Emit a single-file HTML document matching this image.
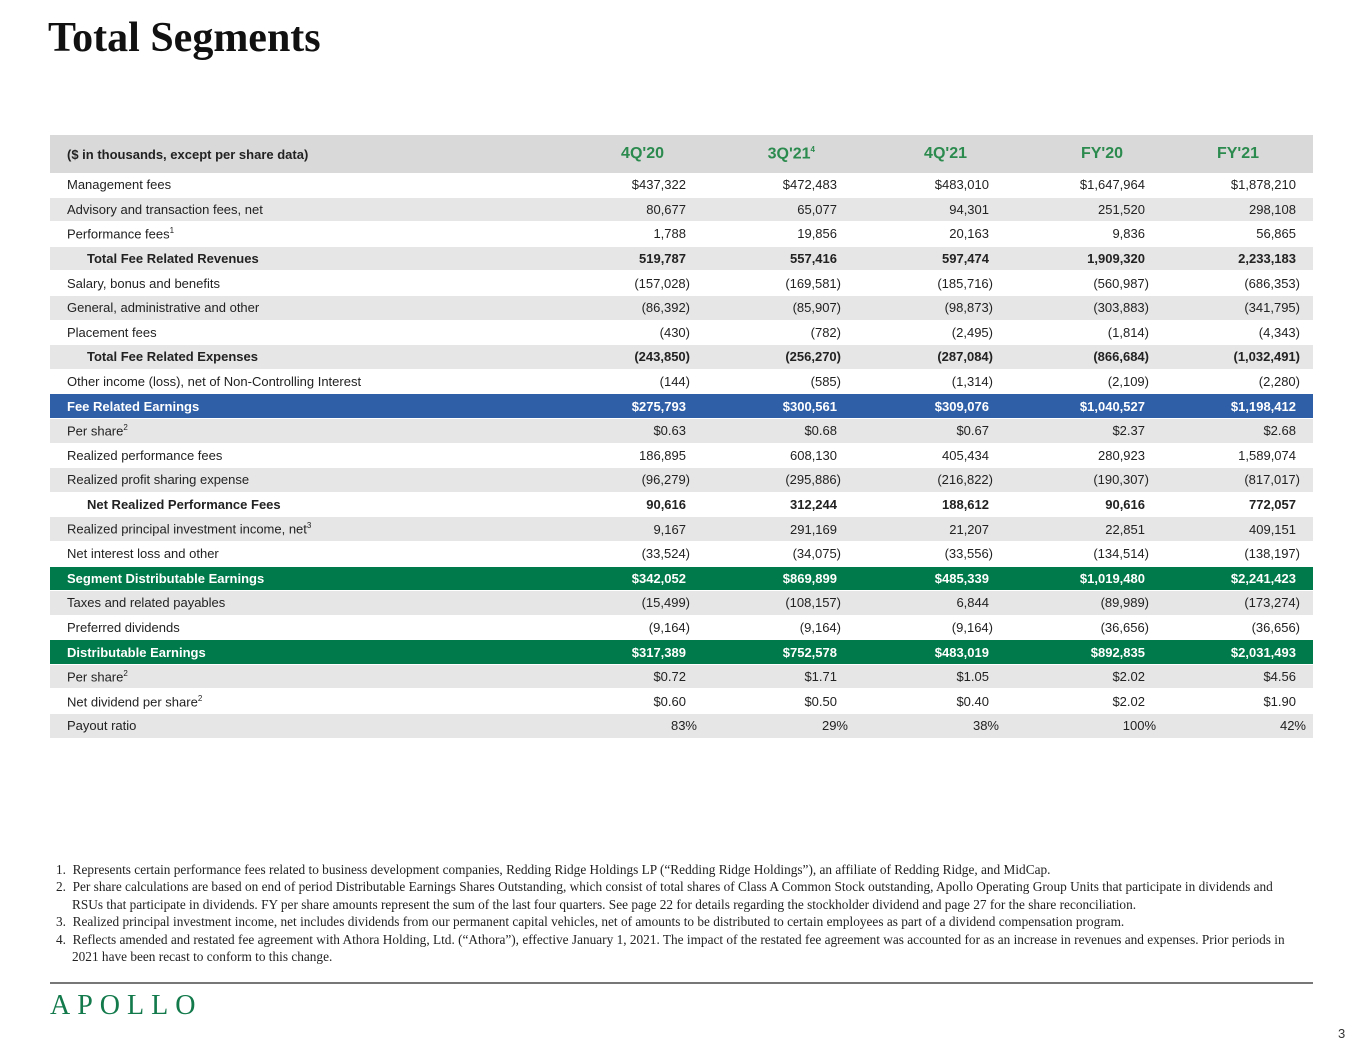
<!DOCTYPE html>
<html><head><meta charset="utf-8"><style>
body{margin:0;width:1365px;height:1055px;background:#fff;position:relative;font-family:"Liberation Sans",sans-serif;overflow:hidden}
h1{position:absolute;left:48px;top:14px;margin:0;font-family:"Liberation Serif",serif;font-size:42px;font-weight:bold;color:#111}
table{position:absolute;left:50px;top:135px;border-collapse:collapse;table-layout:fixed;width:1263px;font-size:13px;color:#222}
td{height:23.6px;padding:0;border-bottom:1px solid #fff;white-space:nowrap}
td.l{padding-left:17px}
td.n{text-align:right;padding-right:4px}
td.n5{text-align:right;padding-right:17px}
tr.g td{background:#e6e6e6}
tr.h td{background:#d9d9d9;height:38px;font-weight:bold;font-size:13px;border:none}
tr.h td.c{color:#2b8a4e;font-size:16px;text-align:right;padding-right:26px}
tr.h td.c5{color:#2b8a4e;font-size:16px;text-align:right;padding-right:54px}
tr.b td{font-weight:bold}
tr.t td.l{padding-left:37px}
tr.blue td{background:#2f5fa7;color:#fff;font-weight:bold}
tr.grn td{background:#007a4a;color:#fff;font-weight:bold}
.p{margin-right:-4px}
sup{font-size:8px}
.fn{position:absolute;left:56px;top:861px;width:1280px;font-family:"Liberation Serif",serif;font-size:13.3px;color:#222;line-height:17.4px;white-space:nowrap}
.fn div{padding-left:16px;text-indent:-16px;margin:0}
.line{position:absolute;left:50px;top:982px;width:1263px;height:2px;background:#777}
.logo{position:absolute;left:50px;top:990px;font-family:"Liberation Serif",serif;font-size:28px;color:#137a4c;letter-spacing:7px}
.pg{position:absolute;left:1338px;top:1026px;font-size:13px;color:#333}
</style></head><body>
<h1>Total Segments</h1>
<table>
<colgroup><col style="width:490px"><col style="width:150px"><col style="width:151px"><col style="width:152px"><col style="width:156px"><col style="width:164px"></colgroup>
<tr class="h"><td class="l">($ in thousands, except per share data)</td><td class="c">4Q'20</td><td class="c">3Q'21<sup>4</sup></td><td class="c">4Q'21</td><td class="c">FY'20</td><td class="c5">FY'21</td></tr>
<tr><td class="l">Management fees</td><td class="n">$437,322</td><td class="n">$472,483</td><td class="n">$483,010</td><td class="n">$1,647,964</td><td class="n5">$1,878,210</td></tr>
<tr class="g"><td class="l">Advisory and transaction fees, net</td><td class="n">80,677</td><td class="n">65,077</td><td class="n">94,301</td><td class="n">251,520</td><td class="n5">298,108</td></tr>
<tr><td class="l">Performance fees<sup>1</sup></td><td class="n">1,788</td><td class="n">19,856</td><td class="n">20,163</td><td class="n">9,836</td><td class="n5">56,865</td></tr>
<tr class="g b t"><td class="l">Total Fee Related Revenues</td><td class="n">519,787</td><td class="n">557,416</td><td class="n">597,474</td><td class="n">1,909,320</td><td class="n5">2,233,183</td></tr>
<tr><td class="l">Salary, bonus and benefits</td><td class="n"><span class="p">(157,028)</span></td><td class="n"><span class="p">(169,581)</span></td><td class="n"><span class="p">(185,716)</span></td><td class="n"><span class="p">(560,987)</span></td><td class="n5"><span class="p">(686,353)</span></td></tr>
<tr class="g"><td class="l">General, administrative and other</td><td class="n"><span class="p">(86,392)</span></td><td class="n"><span class="p">(85,907)</span></td><td class="n"><span class="p">(98,873)</span></td><td class="n"><span class="p">(303,883)</span></td><td class="n5"><span class="p">(341,795)</span></td></tr>
<tr><td class="l">Placement fees</td><td class="n"><span class="p">(430)</span></td><td class="n"><span class="p">(782)</span></td><td class="n"><span class="p">(2,495)</span></td><td class="n"><span class="p">(1,814)</span></td><td class="n5"><span class="p">(4,343)</span></td></tr>
<tr class="g b t"><td class="l">Total Fee Related Expenses</td><td class="n"><span class="p">(243,850)</span></td><td class="n"><span class="p">(256,270)</span></td><td class="n"><span class="p">(287,084)</span></td><td class="n"><span class="p">(866,684)</span></td><td class="n5"><span class="p">(1,032,491)</span></td></tr>
<tr><td class="l">Other income (loss), net of Non-Controlling Interest</td><td class="n"><span class="p">(144)</span></td><td class="n"><span class="p">(585)</span></td><td class="n"><span class="p">(1,314)</span></td><td class="n"><span class="p">(2,109)</span></td><td class="n5"><span class="p">(2,280)</span></td></tr>
<tr class="blue"><td class="l">Fee Related Earnings</td><td class="n">$275,793</td><td class="n">$300,561</td><td class="n">$309,076</td><td class="n">$1,040,527</td><td class="n5">$1,198,412</td></tr>
<tr class="g"><td class="l">Per share<sup>2</sup></td><td class="n">$0.63</td><td class="n">$0.68</td><td class="n">$0.67</td><td class="n">$2.37</td><td class="n5">$2.68</td></tr>
<tr><td class="l">Realized performance fees</td><td class="n">186,895</td><td class="n">608,130</td><td class="n">405,434</td><td class="n">280,923</td><td class="n5">1,589,074</td></tr>
<tr class="g"><td class="l">Realized profit sharing expense</td><td class="n"><span class="p">(96,279)</span></td><td class="n"><span class="p">(295,886)</span></td><td class="n"><span class="p">(216,822)</span></td><td class="n"><span class="p">(190,307)</span></td><td class="n5"><span class="p">(817,017)</span></td></tr>
<tr class="b t"><td class="l">Net Realized Performance Fees</td><td class="n">90,616</td><td class="n">312,244</td><td class="n">188,612</td><td class="n">90,616</td><td class="n5">772,057</td></tr>
<tr class="g"><td class="l">Realized principal investment income, net<sup>3</sup></td><td class="n">9,167</td><td class="n">291,169</td><td class="n">21,207</td><td class="n">22,851</td><td class="n5">409,151</td></tr>
<tr><td class="l">Net interest loss and other</td><td class="n"><span class="p">(33,524)</span></td><td class="n"><span class="p">(34,075)</span></td><td class="n"><span class="p">(33,556)</span></td><td class="n"><span class="p">(134,514)</span></td><td class="n5"><span class="p">(138,197)</span></td></tr>
<tr class="grn"><td class="l">Segment Distributable Earnings</td><td class="n">$342,052</td><td class="n">$869,899</td><td class="n">$485,339</td><td class="n">$1,019,480</td><td class="n5">$2,241,423</td></tr>
<tr class="g"><td class="l">Taxes and related payables</td><td class="n"><span class="p">(15,499)</span></td><td class="n"><span class="p">(108,157)</span></td><td class="n">6,844</td><td class="n"><span class="p">(89,989)</span></td><td class="n5"><span class="p">(173,274)</span></td></tr>
<tr><td class="l">Preferred dividends</td><td class="n"><span class="p">(9,164)</span></td><td class="n"><span class="p">(9,164)</span></td><td class="n"><span class="p">(9,164)</span></td><td class="n"><span class="p">(36,656)</span></td><td class="n5"><span class="p">(36,656)</span></td></tr>
<tr class="grn"><td class="l">Distributable Earnings</td><td class="n">$317,389</td><td class="n">$752,578</td><td class="n">$483,019</td><td class="n">$892,835</td><td class="n5">$2,031,493</td></tr>
<tr class="g"><td class="l">Per share<sup>2</sup></td><td class="n">$0.72</td><td class="n">$1.71</td><td class="n">$1.05</td><td class="n">$2.02</td><td class="n5">$4.56</td></tr>
<tr><td class="l">Net dividend per share<sup>2</sup></td><td class="n">$0.60</td><td class="n">$0.50</td><td class="n">$0.40</td><td class="n">$2.02</td><td class="n5">$1.90</td></tr>
<tr class="g"><td class="l">Payout ratio</td><td class="n"><span style="margin-right:-11px">83%</span></td><td class="n"><span style="margin-right:-11px">29%</span></td><td class="n"><span style="margin-right:-10px">38%</span></td><td class="n"><span style="margin-right:-11px">100%</span></td><td class="n5"><span style="margin-right:-10px">42%</span></td></tr>
</table>
<div class="fn">
<div>1.&nbsp; Represents certain performance fees related to business development companies, Redding Ridge Holdings LP (“Redding Ridge Holdings”), an affiliate of Redding Ridge, and MidCap.</div>
<div>2.&nbsp; Per share calculations are based on end of period Distributable Earnings Shares Outstanding, which consist of total shares of Class A Common Stock outstanding, Apollo Operating Group Units that participate in dividends and<br>RSUs that participate in dividends. FY per share amounts represent the sum of the last four quarters. See page 22 for details regarding the stockholder dividend and page 27 for the share reconciliation.</div>
<div>3.&nbsp; Realized principal investment income, net includes dividends from our permanent capital vehicles, net of amounts to be distributed to certain employees as part of a dividend compensation program.</div>
<div>4.&nbsp; Reflects amended and restated fee agreement with Athora Holding, Ltd. (“Athora”), effective January 1, 2021. The impact of the restated fee agreement was accounted for as an increase in revenues and expenses. Prior periods in<br>2021 have been recast to conform to this change.</div>
</div>
<div class="line"></div>
<div class="logo">APOLLO</div>
<div class="pg">3</div>
</body></html>
